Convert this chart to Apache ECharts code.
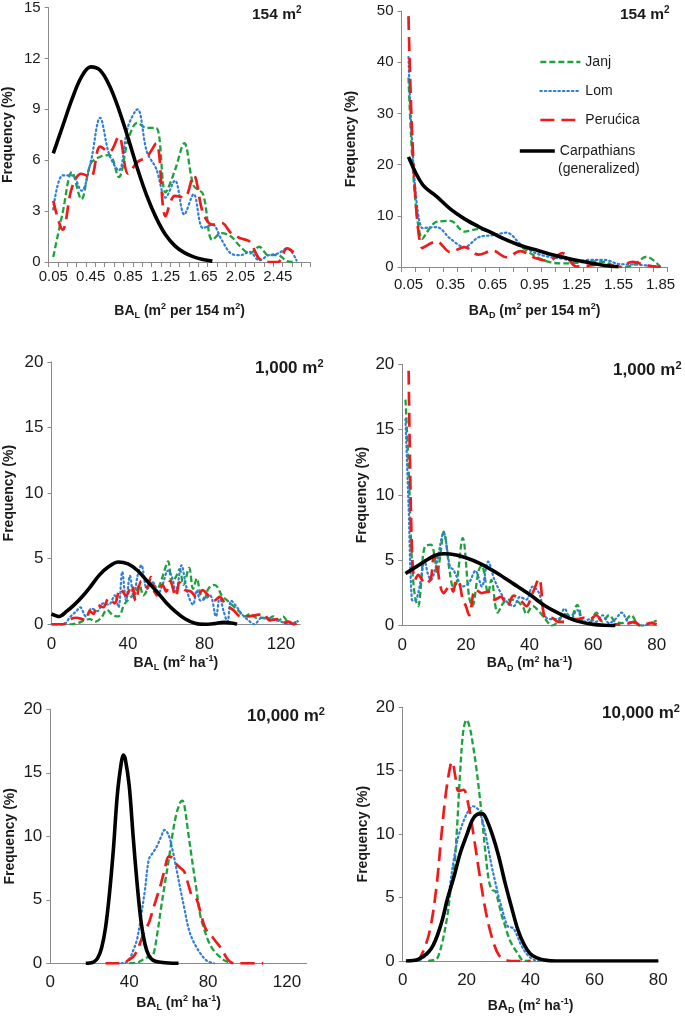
<!DOCTYPE html>
<html><head><meta charset="utf-8">
<script src="https://cdn.jsdelivr.net/npm/echarts@6/dist/echarts.min.js"></script>
<style>html,body{margin:0;padding:0;background:#fff}#c{width:685px;height:1016px}</style>
</head><body><div id="c"></div>
<script>
// ---------- tick labels / categories ----------
const cats154L = ['0.05','0.15','0.25','0.35','0.45','0.55','0.65','0.75','0.85','0.95','1.05','1.15','1.25','1.35','1.45','1.55','1.65','1.75','1.85','1.95','2.05','2.15','2.25','2.35','2.45','2.55','2.65','2.75'];
const cats154D = ['0.05','0.15','0.25','0.35','0.45','0.55','0.65','0.75','0.85','0.95','1.05','1.15','1.25','1.35','1.45','1.55','1.65','1.75','1.85'];

// ---------- 154 m2, BA_L (frequency % per category) ----------
const janj154L = [0.3,2.9,5.3,3.7,5.8,6.2,6.3,5.0,7.2,8.2,7.9,7.9,4.1,5.4,7.0,4.5,4.0,1.3,1.7,1.5,0.9,0.5,0.9,0.4,0.4,0.05,0.0,'-'];
const lom154L  = [3.1,5.1,5.1,4.2,5.9,8.5,6.3,5.4,8.0,9.0,6.5,5.5,3.8,4.8,2.8,4.0,2.0,2.2,1.3,0.5,0.4,0.6,0.1,0.4,0.5,0.8,0.1,'-'];
const peru154L = [3.6,1.9,4.4,5.2,5.0,6.8,6.5,7.4,5.2,5.9,6.2,7.0,2.7,3.9,3.8,5.1,2.9,2.2,2.3,1.7,1.4,1.2,0.2,0.0,0.0,0.8,0.4,'-'];
const carp154L = [6.4,8.0,9.6,10.9,11.5,11.3,10.4,9.0,7.3,5.5,3.9,2.6,1.6,0.95,0.55,0.3,0.15,0.05,'-','-','-','-','-','-','-','-','-','-'];

// ---------- 154 m2, BA_D ----------
const janj154D = [37,5.5,8.8,9.0,6.9,7.4,6.5,5.2,4.0,2.2,1.0,0.7,0.8,1.1,1.0,0.0,0.3,2.0,0.0];
const lom154D  = [41,7.6,7.8,5.5,3.9,5.8,6.2,6.7,4.5,2.8,2.0,1.6,1.1,1.4,1.4,0.6,0.5,0.3,0.0];
const peru154D = [49,3.7,5.0,2.9,3.9,2.4,3.2,1.9,3.1,1.8,1.2,2.7,0.1,0.3,0.6,0.0,1.0,0.3,0.0];
const carp154D = [21.5,16.1,13.8,11.3,9.4,7.9,6.6,5.3,4.2,3.4,2.6,1.95,1.3,0.8,0.3,0.05,'-','-','-'];

// ---------- 1,000 m2, BA_L  [m2 ha-1, %] ----------
const janj1000L = [[0,0],[5,0],[10,0],[14,0.1],[17,0.3],[20,0.4],[23,0.2],[26,0.5],[29,1.1],[32,0.7],[35,0.6],[38,1.5],[41,2.0],[44,2.4],[46,3.0],[48,2.2],[50,2.6],[52,3.3],[54,2.4],[56,2.8],[58,3.6],[61,4.8],[63,3.2],[65,3.6],[67,4.2],[69,3.0],[72,4.3],[74,2.7],[76,3.5],[78,2.2],[80,2.0],[82,2.7],[85,3.0],[87,2.8],[89,2.2],[92,1.8],[95,1.4],[98,1.0],[101,0.6],[104,0.8],[107,0.5],[110,0.5],[113,0.4],[116,0.6],[119,0.3],[121,0.6],[124,0.1],[127,0.0],[129,0.3]];
const lom1000L  = [[0,0],[6,0],[10,0.6],[13,1.0],[15,1.3],[18,0.6],[21,1.2],[24,1.0],[27,1.6],[30,1.5],[33,2.2],[35,1.3],[37,4.0],[39,1.8],[41,3.7],[43,2.0],[45,3.7],[47,4.5],[50,2.7],[53,3.2],[56,2.4],[58,3.0],[61,4.1],[63,3.6],[65,2.5],[68,4.5],[70,3.2],[72,2.0],[74,1.5],[76,2.6],[78,1.8],[81,2.0],[83,2.2],[86,0.6],[88,2.1],[90,1.0],[92,0.2],[94,1.8],[97,1.3],[100,0.7],[103,0.3],[106,0.0],[110,0.5],[115,0.4],[120,0.2],[124,0.0],[128,0.2]];
const peru1000L = [[0,0],[6,0],[10,0.4],[13,0.5],[16,0.4],[18,0.3],[20,1.0],[22,0.8],[24,1.5],[27,1.3],[30,2.0],[33,1.6],[36,2.7],[39,2.2],[42,3.0],[44,1.8],[47,3.3],[50,2.8],[52,3.6],[55,2.2],[58,3.0],[60,2.5],[62,3.3],[65,2.1],[67,3.2],[70,2.6],[73,2.5],[76,2.0],[79,2.6],[82,2.2],[85,1.8],[88,2.1],[91,1.5],[95,1.1],[99,0.6],[103,0.6],[107,0.7],[111,0.8],[114,0.3],[118,0.4],[121,0.1],[124,0.2],[127,0.0],[129,0.2]];
const carp1000L = [[0,0.8],[4,0.6],[8,1.0],[12,1.5],[16,2.1],[20,2.8],[25,3.75],[30,4.4],[35,4.75],[40,4.6],[45,4.1],[50,3.3],[55,2.5],[60,1.65],[65,0.95],[70,0.4],[75,0.08],[80,0],[85,0.05],[90,0.15],[95,0.08],[97,0]];

// ---------- 1,000 m2, BA_D ----------
const janj1000D = [[1,17.3],[2,12],[3,5],[4,2.2],[5,1.5],[6,3.5],[7,6.0],[9,6.2],[10,5.5],[11,4.0],[12,5.5],[13,7.2],[15,4.0],[16,3.0],[17,3.2],[19,6.7],[21,2.2],[22,1.5],[24,4.2],[25,4.6],[27,2.5],[28,3.5],[30,1.0],[32,1.8],[34,2.0],[36,1.9],[38,1.4],[39,0.9],[41,1.5],[43,1.1],[45,0.5],[47,0.0],[49,0.3],[51,0.9],[53,0.7],[55,1.6],[57,0.3],[59,0.3],[61,1.0],[63,0.3],[65,0.8],[67,0.3],[69,0.2],[72,0.8],[74,0.1],[76,0.0],[78,0.2],[80,0.4]];
const lom1000D  = [[1,15.8],[2,9],[3,2.0],[4,1.9],[5,2.5],[6,3.8],[7,5.0],[8,4.0],[9,3.5],[10,4.0],[11,5.0],[13,7.1],[15,4.5],[16,4.3],[17,3.8],[19,3.0],[21,3.3],[23,4.2],[25,3.0],[27,4.9],[29,3.5],[31,2.5],[33,1.8],[35,1.5],[37,2.2],[39,2.0],[41,3.0],[43,2.5],[45,0.7],[47,0.5],[49,0.5],[51,1.3],[53,0.5],[55,1.2],[57,0.3],[59,0.5],[61,0.3],[63,0.8],[65,0.2],[67,0.5],[69,1.0],[71,0.3],[73,0.2],[75,0],[77,0.1],[79,0.3]];
const peru1000D = [[2,19.5],[3,6],[4,3.5],[5,3.9],[6,3.6],[7,3.2],[8,3.3],[9,3.6],[10,5.5],[11,4.5],[12,3.0],[13,2.5],[14,2.8],[15,3.1],[16,2.6],[17,3.5],[18,3.2],[19,2.0],[20,1.5],[21,0.8],[23,2.8],[25,2.5],[27,2.6],[29,2.0],[31,2.2],[33,1.5],[35,2.3],[37,2.0],[39,1.5],[41,2.5],[43,3.6],[45,0.6],[47,0.6],[49,0.3],[51,0.3],[53,0.5],[55,0.5],[57,0.6],[59,0.5],[61,0.8],[63,0.2],[65,0.0],[67,0.1],[70,0.1],[73,0.3],[75,0.0],[78,0.2],[80,0.1]];
const carp1000D = [[1,4.0],[5,4.6],[10,5.35],[13,5.5],[15,5.48],[20,5.2],[25,4.7],[30,4.0],[35,3.2],[40,2.4],[45,1.5],[50,0.85],[55,0.35],[60,0.1],[65,0.02],[67,0]];

// ---------- 10,000 m2, BA_L ----------
const janj10000L = [[40,0],[44,0.05],[46,0.2],[48,0.4],[50,0.5],[52,0.6],[54,2.1],[56,4.2],[58,6.2],[60,8.1],[62,10.2],[64,11.8],[66,12.7],[67,12.8],[68,12.4],[70,10.2],[72,8.0],[74,5.9],[76,3.8],[78,2.7],[80,1.8],[82,1.2],[84,0.8],[86,0.5],[88,0.25],[90,0.1],[92,0]];
const lom10000L  = [[36,0],[38,0.05],[40,0.3],[42,1.0],[44,1.9],[46,3.7],[48,5.8],[50,8.2],[52,8.7],[54,9.2],[56,9.9],[58,10.5],[60,10.1],[62,8.9],[64,7.4],[66,5.8],[68,4.3],[70,2.8],[72,1.9],[74,1.3],[76,0.8],[78,0.4],[80,0.15],[83,0]];
const peru10000L = [[28,0],[34,0],[38,0.1],[40,0.3],[42,0.5],[44,1.0],[46,1.8],[48,2.6],[50,3.2],[52,4.2],[54,5.2],[56,6.2],[58,7.4],[60,8.4],[62,8.3],[64,7.8],[66,7.5],[68,7.2],[70,6.2],[72,5.25],[74,5.1],[76,4.1],[78,3.0],[80,2.4],[82,2.1],[84,1.7],[86,1.3],[88,0.8],[90,0.3],[92,0.05],[95,0],[108,0]];
const carp10000L = [[18,0],[20,0.02],[22,0.1],[24,0.4],[26,1.2],[28,2.8],[30,5.5],[32,9.0],[34,13.3],[36,15.8],[37,16.4],[38,16.1],[40,14.0],[42,10.0],[44,6.3],[46,3.3],[48,1.5],[50,0.6],[52,0.25],[55,0.1],[60,0.02],[65,0]];

// ---------- 10,000 m2, BA_D ----------
const janj10000D = [[8,0],[10,0.1],[11,0.3],[12.5,1.6],[14,3.6],[15,5.6],[16,7.0],[17,10.5],[18,15.0],[19,18.2],[20,19.0],[21,18.4],[22,17.0],[23,15.3],[24,13.2],[25,10.8],[26,8.3],[27,6.3],[28,5.6],[29,5.5],[30,4.6],[31,3.6],[32,2.8],[33,2.0],[34,1.4],[36,0.6],[38,0],[40,0]];
const lom10000D  = [[4,0],[5.5,0.1],[8,0.6],[10,1.6],[12,2.9],[14,4.6],[15,6.3],[16,8.0],[17.5,9.9],[19.5,11.3],[21,12.0],[22,12.2],[23,12.1],[24,11.8],[25,11.0],[26,9.9],[27,8.6],[28,7.3],[29,6.2],[30,5.1],[31,4.2],[32,3.3],[33,2.7],[34.5,2.6],[36,1.9],[37,1.3],[39,0.5],[41,0.1],[43,0]];
const peru10000D = [[4,0],[5,0.1],[6.5,0.8],[8.5,2.4],[10.5,5.7],[12,9.6],[13.5,13.2],[15,15.5],[15.5,15.7],[16.5,14.5],[17.5,13.4],[19,13.5],[20.5,12.4],[22.5,9.4],[24,6.9],[26,3.9],[28,1.8],[30,0.5],[32,0.1],[34,0],[40,0]];
const carp10000D = [[1,0],[5,0.15],[9,1.0],[12,2.9],[14,4.9],[16,6.6],[18,8.5],[20,9.9],[22,11.2],[24,11.6],[25,11.6],[26,11.3],[28,10.0],[30,8.3],[32,6.2],[34,4.3],[36,2.5],[38,1.3],[40,0.55],[42,0.25],[45,0.05],[48,0],[60,0],[80,0]];

// ---------- styling ----------
const FONT = '"Liberation Sans", Arial, Helvetica, sans-serif';
const TXT = '#1a1a1a';
const AXC = '#8a8a8a';
const STY = {
  Janj:       {color:'#1ca23c', width:2.3, type:[6,3]},
  Lom:        {color:'#2f7fd8', width:2.2, type:[1.5,3], cap:'round'},
  'Perućica': {color:'#f01a1a', width:2.7, type:[14,7]},
  Carpathians:{color:'#000000', width:3.6, type:'solid'}
};

const grids = [
  {left:48.6, top:7,     width:262,   height:255},
  {left:401.5, top:11,   width:266,   height:256},
  {left:51.5, top:362,   width:248.6, height:262.3},
  {left:402.3, top:364.3,width:254.4, height:261.4},
  {left:50.3, top:709.3, width:256.4, height:254},
  {left:402.7, top:707.3,width:255.6, height:260}
];

const nameRich = {
  b:   {fontFamily:FONT, fontSize:14, fontWeight:'bold', color:TXT, lineHeight:18},
  sup: {fontFamily:FONT, fontSize:9,  fontWeight:'bold', color:TXT, lineHeight:11, verticalAlign:'top'},
  sub: {fontFamily:FONT, fontSize:9,  fontWeight:'bold', color:TXT, lineHeight:11, verticalAlign:'bottom'}
};
const nm154 = s => `{b|BA}{sub|${s}}{b| (m}{sup|2}{b| per 154 m}{sup|2}{b|)}`;
const nmHa  = s => `{b|BA}{sub|${s}}{b| (m}{sup|2}{b| ha}{sup|-1}{b|)}`;

function xCat(gi, data, labInt, gap, lmargin) {
  return {type:'category', gridIndex:gi, data:data, boundaryGap:true,
    axisLine:{lineStyle:{color:AXC, width:1}},
    axisTick:{show:true, interval:0, length:5, lineStyle:{color:AXC}},
    axisLabel:{interval:labInt, fontFamily:FONT, fontSize:15, color:TXT, margin:lmargin},
    splitLine:{show:false},
    name: gi===0 ? nm154('L') : nm154('D'), nameLocation:'middle', nameGap:gap,
    nameTextStyle:{rich:nameRich}};
}
function xVal(gi, max, interval, nameStr, gap, lmargin, fs) {
  return {type:'value', gridIndex:gi, min:0, max:max, interval:interval,
    axisLine:{show:true, onZero:false, lineStyle:{color:AXC, width:1}},
    axisTick:{show:false},
    axisLabel:{fontFamily:FONT, fontSize:fs, color:TXT, margin:lmargin, showMaxLabel: max % interval === 0},
    splitLine:{show:false},
    name:nameStr, nameLocation:'middle', nameGap:gap, nameTextStyle:{rich:nameRich}};
}
function yAx(gi, max, interval, gap, fs) {
  return {type:'value', gridIndex:gi, min:0, max:max, interval:interval,
    axisLine:{show:true, lineStyle:{color:AXC, width:1}},
    axisTick:{show:true, length:4, lineStyle:{color:AXC}},
    axisLabel:{fontFamily:FONT, fontSize:fs, color:TXT, margin:8},
    splitLine:{show:false},
    name:'Frequency (%)', nameLocation:'middle', nameGap:gap, nameRotate:90,
    nameTextStyle:{fontFamily:FONT, fontSize:14, fontWeight:'bold', color:TXT}};
}

const xAxes = [
  xCat(0, cats154L, 3, 40, 7),
  xCat(1, cats154D, 2, 35, 10),
  xVal(2, 130, 40, nmHa('L'), 27, 12, 17),
  xVal(3, 80, 20, nmHa('D'), 27, 11, 17),
  xVal(4, 130, 40, nmHa('L'), 31, 11, 17),
  xVal(5, 80, 20, nmHa('D'), 36, 11, 17)
];
const yAxes = [
  yAx(0, 15, 3, 33, 15),
  yAx(1, 50, 10, 43, 15),
  yAx(2, 20, 5, 35, 17),
  yAx(3, 20, 5, 33, 17),
  yAx(4, 20, 5, 33, 17),
  yAx(5, 20, 5, 33, 17)
];

const panels = [
  {Janj:janj154L, Lom:lom154L, 'Perućica':peru154L, Carpathians:carp154L},
  {Janj:janj154D, Lom:lom154D, 'Perućica':peru154D, Carpathians:carp154D},
  {Janj:janj1000L, Lom:lom1000L, 'Perućica':peru1000L, Carpathians:carp1000L},
  {Janj:janj1000D, Lom:lom1000D, 'Perućica':peru1000D, Carpathians:carp1000D},
  {Janj:janj10000L, Lom:lom10000L, 'Perućica':peru10000L, Carpathians:carp10000L},
  {Janj:janj10000D, Lom:lom10000D, 'Perućica':peru10000D, Carpathians:carp10000D}
];

const series = [];
panels.forEach((p, gi) => {
  ['Janj','Lom','Perućica','Carpathians'].forEach(name => {
    const s = STY[name];
    series.push({
      type:'line', name:name, xAxisIndex:gi, yAxisIndex:gi, data:p[name],
      smooth:0.35, symbol:'none', showSymbol:false, connectNulls:false,
      lineStyle:{color:s.color, width:s.width, type:s.type, cap:s.cap || 'butt'},
      itemStyle:{color:s.color},
      emphasis:{disabled:true}, animation:false
    });
  });
});

const titleRich = (fs) => ({
  a: {fontFamily:FONT, fontSize:fs, fontWeight:'bold', color:TXT, lineHeight:fs+4},
  s: {fontFamily:FONT, fontSize:Math.round(fs*0.62), fontWeight:'bold', color:TXT, lineHeight:Math.round(fs*0.75), verticalAlign:'top'}
});
const mkTitle = (txt, left, top, fs) => ({text:txt, left:left, top:top, padding:0,
  textStyle:{rich:titleRich(fs)}});
const titles = [
  mkTitle('{a|154 m}{s|2}', 252, 5, 15.5),
  mkTitle('{a|154 m}{s|2}', 620, 5, 15.5),
  mkTitle('{a|1,000 m}{s|2}', 255, 358, 17),
  mkTitle('{a|1,000 m}{s|2}', 613, 360, 17),
  mkTitle('{a|10,000 m}{s|2}', 247, 706, 17),
  mkTitle('{a|10,000 m}{s|2}', 602, 703, 17)
];

const legText = {fontFamily:FONT, fontSize:14, color:TXT, lineHeight:16};
const option = {
  animation:false,
  title: titles,
  grid: grids,
  xAxis: xAxes,
  yAxis: yAxes,
  legend: [
    {data:['Janj','Lom','Perućica'], left:539, top:54, orient:'vertical', padding:0,
     itemWidth:40, itemHeight:16, itemGap:13, selectedMode:false,
     textStyle:legText, lineStyle:{width:'inherit'},
     itemStyle:{color:'rgba(0,0,0,0)', borderWidth:0, opacity:0}},
    {data:['Carpathians'], left:518, top:143, orient:'vertical', padding:0,
     itemWidth:35, itemHeight:16, selectedMode:false,
     textStyle:legText, lineStyle:{width:'inherit'},
     itemStyle:{color:'rgba(0,0,0,0)', borderWidth:0, opacity:0}}
  ],
  graphic: [
    {type:'text', left:558, top:162, silent:true,
     style:{text:'(generalized)', font:'14px ' + FONT, fill:TXT}}
  ],
  series: series
};

const chart = echarts.init(document.getElementById('c'), null, {renderer:'canvas'});
chart.setOption(option);
</script>
</body></html>
